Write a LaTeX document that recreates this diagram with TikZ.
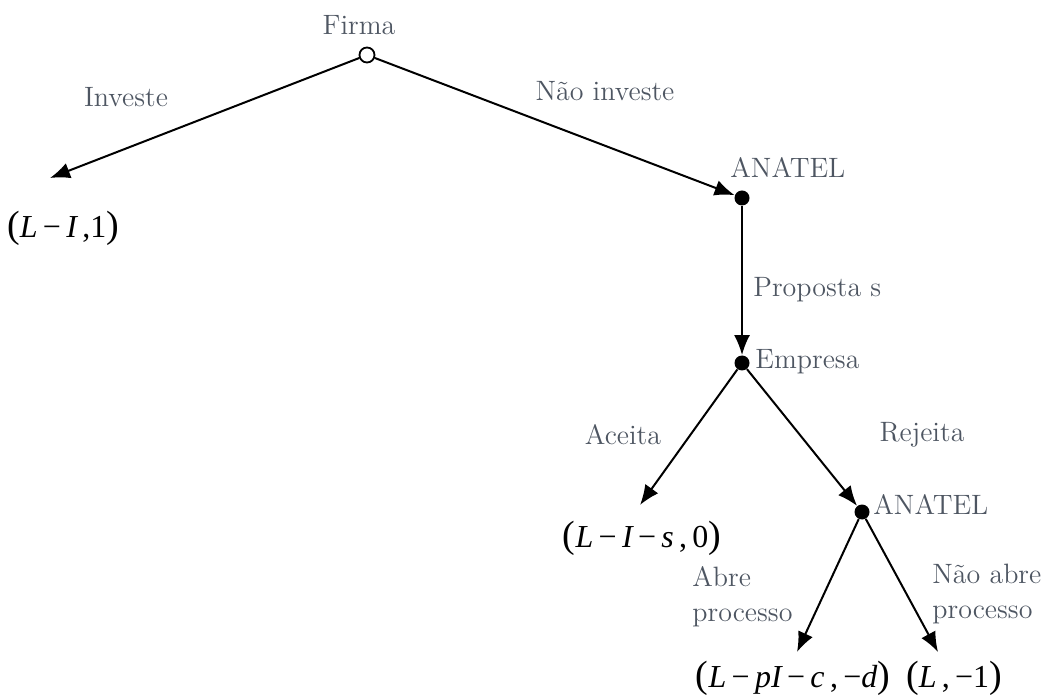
\documentclass[tikz,border=0pt]{standalone}
\usepackage{fontspec}
\usepackage{tikz}
\usetikzlibrary{arrows.meta,positioning}
\newfontfamily\timesfont{Liberation Serif}[ItalicFont={Liberation Serif Italic}]
\definecolor{labelgray}{RGB}{78,86,98}
\newcommand{\lblfont}{\fontsize{14}{17.5}\selectfont}
\newcommand{\payfont}{\timesfont\fontsize{16}{18}\selectfont}
\newcommand{\bigpar}[1]{{\fontsize{19}{19}\selectfont #1}}
\newcommand{\mi}[1]{{\itshape #1}}

\begin{document}
\begin{tikzpicture}[x=0.5pt, y=-0.5pt,
    lbl/.style={text=labelgray, font=\lblfont, inner sep=0pt},
    payoff/.style={font=\payfont, inner sep=0pt},
    ramo/.style={line width=1pt, -{Latex[length=10pt,width=8pt]}},
    decisao/.style={circle, fill=black, inner sep=0pt, minimum size=7.5pt}]
    \useasboundingbox (0,0) rectangle (1043,699);
    % nos de decisao
    \node[circle, draw, line width=0.9pt, fill=white, inner sep=0pt, minimum size=7.5pt] (raiz) at (367,55) {};
    \node[decisao] (anatelA) at (742,198) {};
    \node[decisao] (empresa) at (742,363) {};
    \node[decisao] (anatelB) at (862,512) {};
    % pontas das setas
    \coordinate (fimInv) at (50,178);
    \coordinate (fimAce) at (640,505);
    \coordinate (fimAbre) at (797,652);
    \coordinate (fimNao) at (938,652);
    % ramos
    \draw[ramo] (raiz) -- (fimInv);
    \draw[ramo] (raiz) -- (anatelA);
    \draw[ramo] (anatelA) -- (empresa);
    \draw[ramo] (empresa) -- (fimAce);
    \draw[ramo] (empresa) -- (anatelB);
    \draw[ramo] (anatelB) -- (fimAbre);
    \draw[ramo] (anatelB) -- (fimNao);
    % jogadores e acoes
    \node[lbl] (tFirma) at (359,25) {Firma};
    \node[lbl] (tInv) at (126,97) {Investe};
    \node[lbl] (tNaoInv) at (605,91) {Não investe};
    \node[lbl, anchor=west] (tAnatelA) at (730,168) {ANATEL};
    \node[lbl, anchor=west] (tProp) at (753,290) {Proposta s};
    \node[lbl, anchor=west] (tEmp) at (755,362) {Empresa};
    \node[lbl] (tAce) at (623,435) {Aceita};
    \node[lbl] (tRej) at (922,435) {Rejeita};
    \node[lbl, anchor=west] (tAnatelB) at (873,505) {ANATEL};
    \node[lbl, anchor=west, align=left] (tAbre) at (692,597) {Abre\\processo};
    \node[lbl, anchor=west, align=left] (tNaoAbre) at (932,594) {Não abre\\processo};
    % payoffs
    \node[payoff] (pInv) at (63,228) {\bigpar{(}\mi{L}\,−\,\mi{I}\,,1\bigpar{)}};
    \node[payoff] (pAce) at (642,538) {\bigpar{(}\mi{L}\,−\,\mi{I}\,−\,\mi{s}\,,\,0\bigpar{)}};
    \node[payoff] (pAbre) at (793,678) {\bigpar{(}\mi{L}\,−\,\mi{pI}\,−\,\mi{c}\,,\,−\mi{d}\bigpar{)}};
    \node[payoff] (pNao) at (954,678) {\bigpar{(}\mi{L}\,,\,−1\bigpar{)}};
\end{tikzpicture}
\end{document}
